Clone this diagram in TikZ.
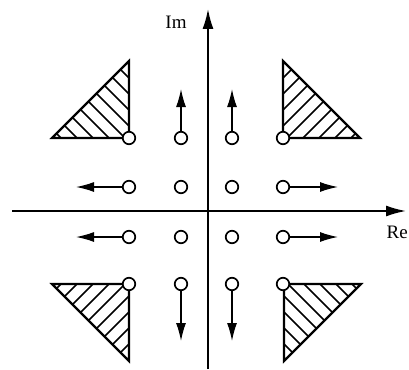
\documentclass[tikz,border=0pt]{standalone}
\usepackage{fontspec}
\setmainfont{Liberation Serif}
\usetikzlibrary{arrows.meta}
\begin{document}
\begin{tikzpicture}[x=1pt,y=-1pt,
  pole/.style={circle,draw,fill=white,line width=1.7pt,minimum size=12.5pt,inner sep=0pt},
  mover/.style={line width=1.4pt,-{Latex[length=18pt,width=10pt]}},
  axis/.style={line width=1.8pt,-{Latex[length=20pt,width=11pt]}},
  edge/.style={line width=2.2pt,line join=miter},
  hatch/.style={line width=1.6pt},
  lbl/.style={font=\fontsize{19}{22}\selectfont,inner sep=0pt}]
\useasboundingbox (0,0) rectangle (409,369);
\clip (0,0) rectangle (409,369);
% axes
\coordinate (xs) at (12,211);
\coordinate (xe) at (406,211);
\coordinate (ys) at (208,369);
\coordinate (ye) at (208,9);
\draw[axis] (xs) -- (xe);
\draw[axis] (ys) -- (ye);
\node[lbl] (im) at (176,22) {Im};
\node[lbl,anchor=east] (re) at (408,232) {Re};
% hatched triangles
\foreach \cx/\cy/\sx/\sy in {129/138/1/1, 283/138/-1/1, 129/284/1/-1, 284/284/-1/-1} {
  \begin{scope}[shift={(\cx,\cy)},xscale=\sx,yscale=\sy]
    \begin{scope}
      \clip (0,0) -- (-77,0) -- (0,-77) -- cycle;
      \foreach \c in {-68,-52,...,70} \draw[hatch] (\c-80,-80) -- (\c+80,80);
    \end{scope}
    \draw[edge] (0,0) -- (-77,0) -- (0,-77) -- cycle;
  \end{scope}
}
% poles
\foreach \r/\y in {1/138,2/187,3/237,4/284} {
  \foreach \c/\x in {1/129,2/181,3/232,4/283} {
    \node[pole] (p\r\c) at (\x,\y) {};
  }
}
% movement arrows
\coordinate (u12) at (181,89);
\coordinate (u13) at (232,89);
\coordinate (l21) at (76,187);
\coordinate (l31) at (76,237);
\coordinate (r24) at (338,187);
\coordinate (r34) at (338,237);
\coordinate (d42) at (181,341);
\coordinate (d43) at (232,341);
\draw[mover] (p12) -- (u12);
\draw[mover] (p13) -- (u13);
\draw[mover] (p21) -- (l21);
\draw[mover] (p31) -- (l31);
\draw[mover] (p24) -- (r24);
\draw[mover] (p34) -- (r34);
\draw[mover] (p42) -- (d42);
\draw[mover] (p43) -- (d43);
\end{tikzpicture}
\end{document}
